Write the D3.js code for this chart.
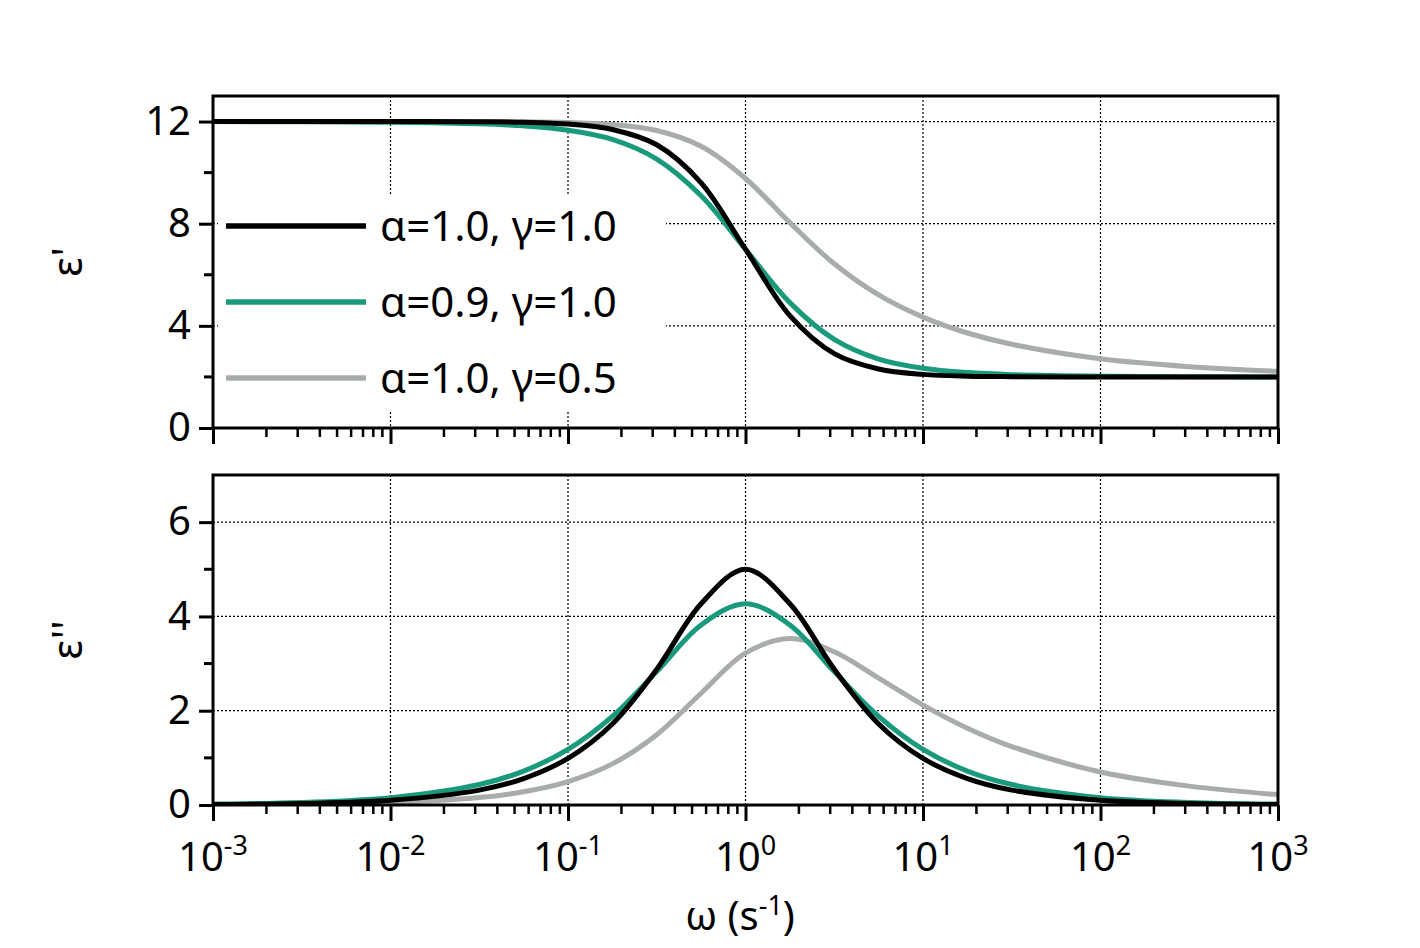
<!DOCTYPE html>
<html><head><meta charset="utf-8">
<script src="https://cdn.jsdelivr.net/npm/d3@7"></script>
<style>body{margin:0;background:#fff}text{font-family:"Noto Sans","Open Sans",sans-serif;fill:#000}</style>
</head><body><svg id="c" width="1420" height="948"></svg>
<script>
// log10(omega) sample positions
const logW = [-3,-2.5,-2,-1.5,-1.25,-1,-0.75,-0.5,-0.25,0,0.25,0.5,0.75,1,1.25,1.5,2,2.5,3];
const epsReal = {
  debye: [12,12,12,11.99,11.97,11.90,11.69,11.09,9.60,7.0,4.40,2.91,2.31,2.10,2.03,2.01,2.0,2.0,2.0],
  cc:    [12,11.99,11.97,11.91,11.83,11.66,11.30,10.53,9.09,7.0,4.91,3.47,2.70,2.34,2.17,2.09,2.03,2.01,2.0],
  cd:    [12,12,12,11.99,11.99,11.96,11.88,11.65,11.03,9.77,8.04,6.43,5.21,4.34,3.72,3.28,2.71,2.40,2.22]
};
const epsImag = {
  debye: [0.01,0.032,0.10,0.316,0.56,0.99,1.72,2.88,4.27,5.0,4.27,2.88,1.72,0.99,0.56,0.316,0.10,0.032,0.01],
  cc:    [0.02,0.055,0.156,0.434,0.72,1.18,1.88,2.83,3.82,4.27,3.82,2.83,1.88,1.18,0.72,0.434,0.156,0.055,0.02],
  cd:    [0.005,0.016,0.05,0.158,0.281,0.497,0.872,1.49,2.37,3.22,3.53,3.25,2.69,2.12,1.63,1.24,0.70,0.40,0.22]
};
const series = [
  {key:"debye", label:"α=1.0, γ=1.0", color:"#000000"},
  {key:"cc", label:"α=0.9, γ=1.0", color:"#1a9a7c"},
  {key:"cd", label:"α=1.0, γ=0.5", color:"#a8acab"}
];
const xExp = [-3,-2,-1,0,1,2,3];

const svg = d3.select("#c");
const x = d3.scaleLinear().domain([-3,3]).range([213,1278]);
const minorX = [];
for (let e=-3;e<3;e++) for (let m=2;m<10;m++) minorX.push(e+Math.log10(m));

function panel(y0, y1, ymax, majors, minors, data, ylab, showXLabels) {
  const y = d3.scaleLinear().domain([0,ymax]).range([y1,y0]);
  const g = svg.append("g");
  // grid
  g.selectAll(".gx").data(xExp.slice(1,-1)).enter().append("line")
    .attr("x1",d=>x(d)).attr("x2",d=>x(d)).attr("y1",y0).attr("y2",y1)
    .attr("stroke","#000").attr("stroke-width",1.2).attr("stroke-dasharray","2,2");
  g.selectAll(".gy").data(majors.filter(v=>v>0)).enter().append("line")
    .attr("x1",213).attr("x2",1278).attr("y1",d=>y(d)).attr("y2",d=>y(d))
    .attr("stroke","#000").attr("stroke-width",1.2).attr("stroke-dasharray","2,2");
  // curves
  const line = d3.line().x((d,i)=>x(logW[i])).y(d=>y(d)).curve(d3.curveCatmullRom.alpha(0.5));
  const clip = "clip"+y0;
  svg.append("clipPath").attr("id",clip).append("rect").attr("x",213).attr("y",y0).attr("width",1065).attr("height",y1-y0);
  series.slice().reverse().forEach(s=>{
    g.append("path").attr("d",line(data[s.key])).attr("fill","none")
      .attr("stroke",s.color).attr("stroke-width",5).attr("clip-path",`url(#${clip})`);
  });
  // frame
  g.append("rect").attr("x",213).attr("y",y0).attr("width",1065).attr("height",y1-y0)
    .attr("fill","none").attr("stroke","#000").attr("stroke-width",3);
  // y axis
  const ya = g.append("g").attr("transform","translate(213,0)")
    .call(d3.axisLeft(y).tickValues(majors).tickSize(14).tickPadding(8).tickFormat(d3.format("d")));
  ya.select(".domain").remove();
  ya.selectAll("line").attr("stroke-width",3);
  ya.selectAll("text").attr("font-size",40);
  g.selectAll(".my").data(minors).enter().append("line")
    .attr("x1",204).attr("x2",213).attr("y1",d=>y(d)).attr("y2",d=>y(d))
    .attr("stroke","#000").attr("stroke-width",3);
  // x ticks
  const xa = g.append("g").attr("transform",`translate(0,${y1})`)
    .call(d3.axisBottom(x).tickValues(xExp).tickSize(16).tickFormat(""));
  xa.select(".domain").remove();
  xa.selectAll("line").attr("stroke-width",3);
  g.selectAll(".mx").data(minorX).enter().append("line")
    .attr("x1",d=>x(d)).attr("x2",d=>x(d)).attr("y1",y1).attr("y2",y1+9)
    .attr("stroke","#000").attr("stroke-width",2.5);
  if (showXLabels) {
    xExp.forEach(e=>{
      const t = g.append("text").attr("x",x(e)).attr("y",y1+66).attr("text-anchor","middle").attr("font-size",40);
      t.append("tspan").text("10");
      t.append("tspan").attr("dy",-16).attr("font-size",27).text(e);
    });
  }
  svg.append("text").attr("transform",`translate(82,${(y0+y1)/2}) rotate(-90)`)
    .attr("text-anchor","middle").attr("font-size",42).text(ylab);
  return y;
}

panel(96,428,13,[0,4,8,12],[2,6,10],epsReal,"ε'",false);
panel(475,805,7,[0,2,4,6],[1,3,5],epsImag,"ε''",true);

// legend
svg.append("rect").attr("x",218).attr("y",196).attr("width",448).attr("height",216).attr("fill","#fff");
series.forEach((s,i)=>{
  const yy = 226+i*76;
  svg.append("line").attr("x1",226).attr("x2",366).attr("y1",yy).attr("y2",yy)
    .attr("stroke",s.color).attr("stroke-width",5.5);
  svg.append("text").attr("x",380).attr("y",yy+15).attr("font-size",42).text(s.label);
});

// x label
const xl = svg.append("text").attr("x",740).attr("y",930).attr("text-anchor","middle").attr("font-size",40);
xl.append("tspan").text("ω (s");
xl.append("tspan").attr("dy",-15).attr("font-size",27).text("-1");
xl.append("tspan").attr("dy",15).text(")");
</script></body></html>
